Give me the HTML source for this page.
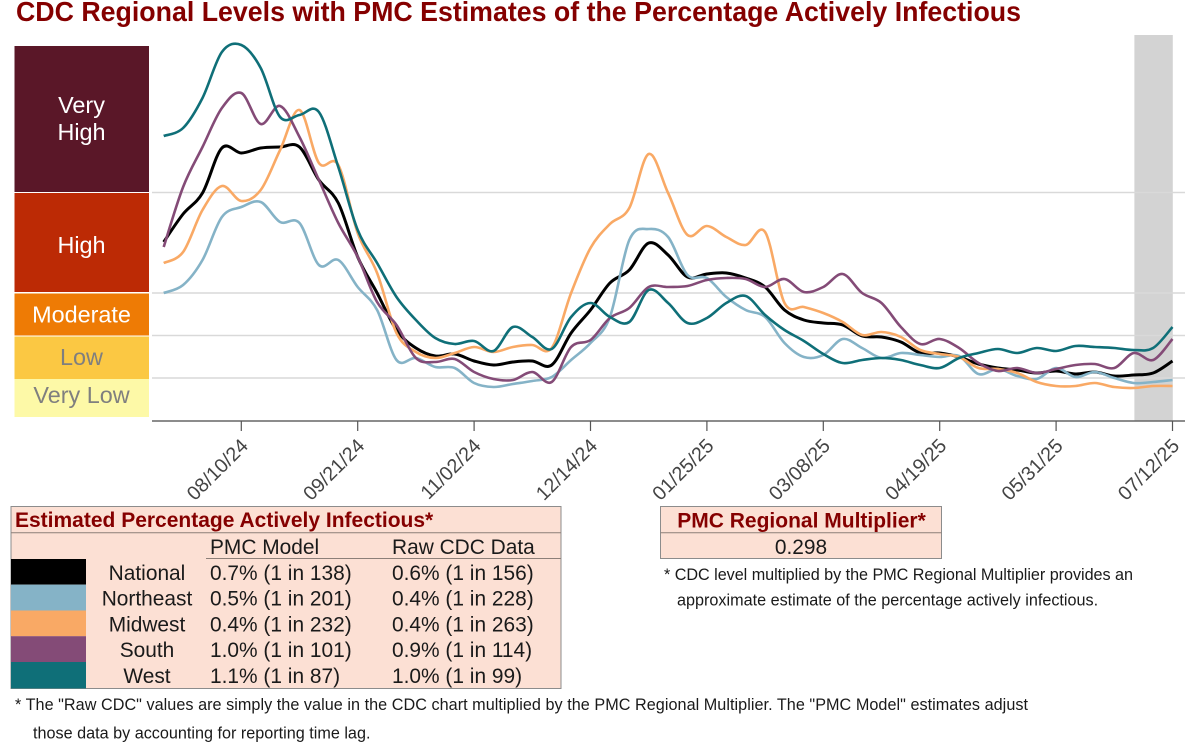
<!DOCTYPE html>
<html lang="en">
<head>
<meta charset="utf-8">
<title>CDC Regional Levels with PMC Estimates</title>
<style>
html,body{margin:0;padding:0;background:#fff;width:1200px;height:752px;overflow:hidden}
svg{display:block}
text{font-family:"Liberation Sans",sans-serif}
.lvl{font-size:23.4px;text-anchor:middle}
.cell{font-size:20.9px;fill:#1a1a1a}
.note{font-size:16.2px;fill:#1a1a1a}
.head{font-weight:bold;fill:#850000;font-size:21px}
</style>
</head>
<body>
<svg id="chart" width="1200" height="752" viewBox="0 0 1200 752" xmlns="http://www.w3.org/2000/svg">
  <text x="16" y="21" font-size="27.4" font-weight="bold" fill="#850000" textLength="1005" lengthAdjust="spacingAndGlyphs">CDC Regional Levels with PMC Estimates of the Percentage Actively Infectious</text>

  <g>
    <rect x="14.5" y="46" width="134.5" height="146" fill="#5a1728"/>
    <rect x="14.5" y="193" width="134.5" height="99" fill="#bc2a05"/>
    <rect x="14.5" y="293.5" width="134.5" height="42" fill="#ee7b05"/>
    <rect x="14.5" y="336.5" width="134.5" height="42.5" fill="#fbc843"/>
    <rect x="14.5" y="379" width="134.5" height="38" fill="#fdf9a7"/>
    <text class="lvl" x="81.5" y="113" fill="#fff">Very</text>
    <text class="lvl" x="81.5" y="140" fill="#fff">High</text>
    <text class="lvl" x="81.5" y="253" fill="#fff">High</text>
    <text class="lvl" x="81.5" y="322.5" fill="#fff">Moderate</text>
    <text class="lvl" x="81.5" y="365" fill="#7f7f7f">Low</text>
    <text class="lvl" x="81.5" y="403" fill="#7f7f7f">Very Low</text>
  </g>

  <rect x="1134.4" y="35" width="38.4" height="386" fill="#d3d3d3"/>
  <g id="grid"></g>
  <g id="series"></g>
  <g id="axis"></g>

  <g>
    <rect x="11" y="506.5" width="550" height="182" fill="#fce0d4" stroke="#8c8c8c" stroke-width="1"/>
    <line x1="11" y1="532.7" x2="561" y2="532.7" stroke="#8c7f78" stroke-width="1"/>
    <line x1="206" y1="558.5" x2="561" y2="558.5" stroke="#8c7f78" stroke-width="1"/>
    <text class="head" x="15" y="527">Estimated Percentage Actively Infectious*</text>
    <text class="cell" x="210" y="554">PMC Model</text>
    <text class="cell" x="392" y="554">Raw CDC Data</text>

    <rect x="11" y="559" width="75" height="25.6" fill="#000"/>
    <rect x="11" y="584.6" width="75" height="25.9" fill="#85b3c7"/>
    <rect x="11" y="610.5" width="75" height="25.7" fill="#f9a965"/>
    <rect x="11" y="636.2" width="75" height="25.8" fill="#844b77"/>
    <rect x="11" y="662" width="75" height="26.5" fill="#0f6f78"/>

    <text class="cell" x="147" y="580" text-anchor="middle">National</text>
    <text class="cell" x="210" y="580">0.7% (1 in 138)</text>
    <text class="cell" x="392" y="580">0.6% (1 in 156)</text>
    <text class="cell" x="147" y="605.7" text-anchor="middle">Northeast</text>
    <text class="cell" x="210" y="605.7">0.5% (1 in 201)</text>
    <text class="cell" x="392" y="605.7">0.4% (1 in 228)</text>
    <text class="cell" x="147" y="631.4" text-anchor="middle">Midwest</text>
    <text class="cell" x="210" y="631.4">0.4% (1 in 232)</text>
    <text class="cell" x="392" y="631.4">0.4% (1 in 263)</text>
    <text class="cell" x="147" y="657.2" text-anchor="middle">South</text>
    <text class="cell" x="210" y="657.2">1.0% (1 in 101)</text>
    <text class="cell" x="392" y="657.2">0.9% (1 in 114)</text>
    <text class="cell" x="147" y="683" text-anchor="middle">West</text>
    <text class="cell" x="210" y="683">1.1% (1 in 87)</text>
    <text class="cell" x="392" y="683">1.0% (1 in 99)</text>
  </g>

  <text class="note" x="15" y="710" textLength="1013" lengthAdjust="spacing">* The "Raw CDC" values are simply the value in the CDC chart multiplied by the PMC Regional Multiplier. The "PMC Model" estimates adjust</text>
  <text class="note" x="33" y="738.5">those data by accounting for reporting time lag.</text>

  <g>
    <rect x="660.5" y="506.5" width="281" height="52" fill="#fce0d4" stroke="#8c8c8c" stroke-width="1"/>
    <line x1="660.5" y1="532.7" x2="941.5" y2="532.7" stroke="#8c7f78" stroke-width="1"/>
    <text class="head" x="801.5" y="527.3" text-anchor="middle">PMC Regional Multiplier*</text>
    <text class="cell" x="801" y="554" text-anchor="middle">0.298</text>
  </g>
  <text class="note" x="664" y="580" textLength="469" lengthAdjust="spacing">* CDC level multiplied by the PMC Regional Multiplier provides an</text>
  <text class="note" x="677" y="605.7">approximate estimate of the percentage actively infectious.</text>
</svg>

<script>
const seriesNames = ['national', 'northeast', 'midwest', 'south', 'west'];
const seriesColors = ['#000000', '#85b3c7', '#f9a965', '#844b77', '#0f6f78'];
const tickLabels = ['08/10/24', '09/21/24', '11/02/24', '12/14/24', '01/25/25', '03/08/25', '04/19/25', '05/31/25', '07/12/25'];
const tickWeeks = [4, 10, 16, 22, 28, 34, 40, 46, 52];
const levelThresholds = [0.516, 1.026, 1.536, 2.742];

const national = [2.148,2.484,2.736,3.276,3.216,3.276,3.288,3.288,2.892,2.616,1.968,1.536,1.092,0.876,0.78,0.804,0.72,0.672,0.708,0.72,0.672,1.056,1.332,1.656,1.812,2.136,1.992,1.728,1.764,1.776,1.716,1.608,1.332,1.212,1.176,1.152,1.02,1.008,0.948,0.816,0.816,0.768,0.684,0.636,0.612,0.576,0.6,0.564,0.588,0.54,0.552,0.576,0.72];
const northeast = [1.536,1.632,1.932,2.448,2.568,2.628,2.388,2.376,1.872,1.932,1.608,1.332,0.732,0.756,0.648,0.636,0.456,0.408,0.444,0.48,0.528,0.732,0.936,1.248,2.172,2.304,2.208,1.752,1.716,1.488,1.332,1.248,0.936,0.768,0.792,0.984,0.876,0.756,0.816,0.792,0.768,0.78,0.564,0.624,0.54,0.504,0.636,0.528,0.588,0.516,0.456,0.468,0.492];
const midwest = [1.896,2.028,2.532,2.82,2.64,2.772,3.252,3.732,3.096,3.072,2.256,1.776,1.056,0.828,0.756,0.816,0.888,0.828,0.888,0.912,0.876,1.536,2.076,2.364,2.556,3.204,2.736,2.232,2.34,2.208,2.112,2.268,1.416,1.368,1.296,1.188,1.032,1.068,1.008,0.852,0.804,0.768,0.636,0.624,0.576,0.468,0.42,0.42,0.456,0.408,0.396,0.42,0.42];
const south = [2.088,2.808,3.288,3.756,3.936,3.564,3.78,3.408,2.892,2.376,1.968,1.428,1.152,0.756,0.708,0.744,0.588,0.504,0.492,0.588,0.468,0.888,0.972,1.236,1.356,1.608,1.608,1.62,1.692,1.716,1.704,1.608,1.704,1.548,1.608,1.764,1.536,1.416,1.128,0.924,0.984,0.876,0.696,0.6,0.636,0.576,0.624,0.672,0.684,0.636,0.816,0.732,0.984];
const west = [3.42,3.516,3.876,4.428,4.512,4.236,3.648,3.672,3.708,3.048,2.292,1.896,1.488,1.212,0.996,0.924,0.96,0.84,1.128,1.008,0.864,1.248,1.416,1.248,1.188,1.572,1.416,1.176,1.236,1.416,1.5,1.272,1.092,0.96,0.804,0.696,0.732,0.756,0.732,0.672,0.636,0.756,0.816,0.864,0.816,0.876,0.84,0.9,0.888,0.876,0.852,0.876,1.128];

const NS = 'http://www.w3.org/2000/svg';
const xScale = week => 163.7 + week * 19.4;
const yScale = pct => 421 - pct * 83.333;

function smoothPath(values) {
  const pts = values.map((v, i) => [xScale(i), yScale(v)]);
  let d = 'M' + pts[0][0].toFixed(1) + ' ' + pts[0][1].toFixed(1);
  for (let i = 0; i < pts.length - 1; i++) {
    const p0 = pts[Math.max(i - 1, 0)];
    const p1 = pts[i];
    const p2 = pts[i + 1];
    const p3 = pts[Math.min(i + 2, pts.length - 1)];
    const c1x = p1[0] + (p2[0] - p0[0]) / 6;
    const c1y = p1[1] + (p2[1] - p0[1]) / 6;
    const c2x = p2[0] - (p3[0] - p1[0]) / 6;
    const c2y = p2[1] - (p3[1] - p1[1]) / 6;
    d += 'C' + c1x.toFixed(1) + ' ' + c1y.toFixed(1) + ' ' + c2x.toFixed(1) + ' ' + c2y.toFixed(1) + ' ' + p2[0].toFixed(1) + ' ' + p2[1].toFixed(1);
  }
  return d;
}

const gridGroup = document.getElementById('grid');
levelThresholds.forEach(level => {
  const line = document.createElementNS(NS, 'line');
  
  
  line.setAttribute('x1', 152);
  line.setAttribute('x2', 1185);
  line.setAttribute('y1', yScale(level));
  line.setAttribute('y2', yScale(level));
  line.setAttribute('stroke', '#d9d9d9');
  line.setAttribute('stroke-width', '1.5');
  gridGroup.appendChild(line);
});

const seriesValues = [national, northeast, midwest, south, west];
const seriesGroup = document.getElementById('series');
seriesValues.forEach((values, s) => {
  const path = document.createElementNS(NS, 'path');
  
  
  path.setAttribute('d', smoothPath(values));
  path.setAttribute('fill', 'none');
  path.setAttribute('stroke', seriesColors[s]);
  path.setAttribute('stroke-width', s === 0 ? '3' : '2.6');
  path.setAttribute('stroke-linejoin', 'round');
  seriesGroup.appendChild(path);
});

const axisGroup = document.getElementById('axis');
const axisLine = document.createElementNS(NS, 'line');


axisLine.setAttribute('x1', 152);
axisLine.setAttribute('x2', 1185);
axisLine.setAttribute('y1', 421);
axisLine.setAttribute('y2', 421);
axisLine.setAttribute('stroke', '#666666');
axisLine.setAttribute('stroke-width', '1.5');
axisGroup.appendChild(axisLine);

tickLabels.forEach((label, i) => {
  const x = xScale(tickWeeks[i]);
  const tick = document.createElementNS(NS, 'line');
  
  
  tick.setAttribute('x1', x);
  tick.setAttribute('x2', x);
  tick.setAttribute('y1', 421);
  tick.setAttribute('y2', 431);
  tick.setAttribute('stroke', '#555555');
  tick.setAttribute('stroke-width', '1.2');
  axisGroup.appendChild(tick);

  const text = document.createElementNS(NS, 'text');
  
  
  text.setAttribute('x', x + 8);
  text.setAttribute('y', 447);
  text.setAttribute('text-anchor', 'end');
  text.setAttribute('font-size', '19.8');
  text.setAttribute('fill', '#444444');
  text.setAttribute('transform', 'rotate(-45 ' + (x + 8) + ' 447)');
  text.textContent = label;
  axisGroup.appendChild(text);
});
</script>
</body>
</html>
